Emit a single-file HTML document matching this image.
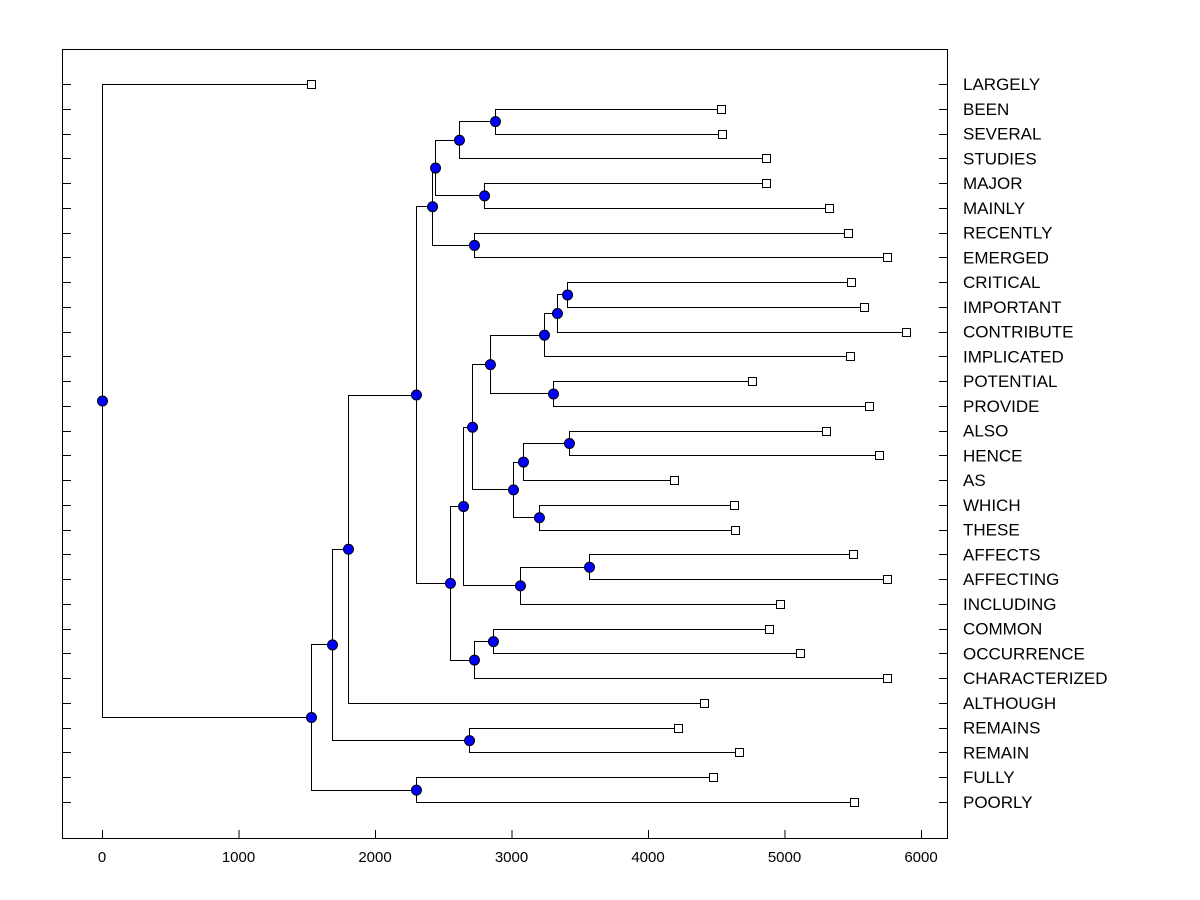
<!DOCTYPE html>
<html><head><meta charset="utf-8"><style>
body{margin:0;background:#fff}
svg{display:block;font-family:"Liberation Sans",Arial,sans-serif}
</style></head><body>
<svg id="chart" width="1200" height="900">
<rect x="62.5" y="49.5" width="885" height="789" fill="none" stroke="#000"/>
<g id="g-axes"></g><g id="g-links"></g><g id="g-nodes"></g><g id="g-leaves"></g><g id="g-labels"></g>
</svg>
<script>
const leafNames = ["LARGELY","BEEN","SEVERAL","STUDIES","MAJOR","MAINLY","RECENTLY","EMERGED","CRITICAL","IMPORTANT","CONTRIBUTE","IMPLICATED","POTENTIAL","PROVIDE","ALSO","HENCE","AS","WHICH","THESE","AFFECTS","AFFECTING","INCLUDING","COMMON","OCCURRENCE","CHARACTERIZED","ALTHOUGH","REMAINS","REMAIN","FULLY","POORLY"];
const leafValues = [1531,4535,4542,4864,4864,5326,5465,5751,5487,5582,5890,5480,4762,5619,5304,5692,4190,4630,4637,5502,5751,4967,4886,5114,5751,4410,4220,4667,4476,5509];
const mergeIds = ["N13","N11","N12","N9","N10","N7","N23","N22","N20","N21","N18","N26","N24","N25","N19","N16","N27","N17","N14","N28","N15","N8","N6","N4","N5","N2","N3","N1","root"];
const mergeHeights = [2879,2615,2799,2440,2725,2418,3407,3333,3238,3304,2842,3421,3084,3201,3011,2711,3568,3062,2645,2864,2725,2549,2300,1802,2689,1685,2300,1531,0];
const mergeLeft = ["L:1","N13","L:4","N11","L:6","N9","L:8","N23","N22","L:12","N20","L:14","N26","L:17","N24","N18","L:19","N27","N16","L:22","N28","N14","N7","N6","L:26","N4","L:28","N2","L:0"];
const mergeRight = ["L:2","L:3","L:5","N12","L:7","N10","L:9","L:10","L:11","L:13","N21","L:15","L:16","L:18","N25","N19","L:20","L:21","N17","L:23","L:24","N15","N8","L:25","L:27","N5","L:29","N3","N1"];
const xTicks = [0,1000,2000,3000,4000,5000,6000];

const X = v => 102 + v * 0.1365;
const Y = i => 84 + i * (802 - 84) / 29;
const NS = "http://www.w3.org/2000/svg";
function mk(tag, attrs, parent){const e=document.createElementNS(NS,tag);for(const k in attrs)e.setAttribute(k,attrs[k]);document.getElementById(parent).appendChild(e);return e;}

xTicks.forEach(t=>{
  const l=mk("line",{x1:X(t)+.5,x2:X(t)+.5,y1:830,y2:838,stroke:"#000"},"g-axes");
  
  
  const tx=mk("text",{x:X(t),y:862,"text-anchor":"middle","font-size":"15"},"g-axes");
  tx.textContent=t;
  
  
});
leafNames.forEach((n,i)=>{
  const y=Math.round(Y(i))+.5;
  const a=mk("line",{x1:62,x2:71,y1:y,y2:y,stroke:"#000"},"g-axes");
  
  
  const b=mk("line",{x1:939,x2:947,y1:y,y2:y,stroke:"#000"},"g-axes");
  
  
  const t=mk("text",{x:963,y:Y(i)+6,"font-size":"17"},"g-labels");
  t.textContent=n;
  
  
});

const pos={};
leafNames.forEach((n,i)=>{pos["L:"+i]={x:X(leafValues[i]),y:Y(i)};});
mergeIds.forEach((id,k)=>{
  const a=pos[mergeLeft[k]], b=pos[mergeRight[k]], x=X(mergeHeights[k]);
  pos[id]={x:x,y:(a.y+b.y)/2};
  const p=mk("path",{d:`M${a.x} ${Math.round(a.y)+.5}H${Math.round(x)+.5}V${Math.round(b.y)+.5}H${b.x}`,fill:"none",stroke:"#000","stroke-width":"1"},"g-links");
  
  
});
mergeIds.forEach(id=>{
  const c=mk("circle",{cx:pos[id].x+.5,cy:pos[id].y+.5,r:5,fill:"#0000ff",stroke:"#000","stroke-width":"1"},"g-nodes");
  
  
});
leafNames.forEach((n,i)=>{
  const p=pos["L:"+i];
  const r=mk("rect",{x:Math.round(p.x)-3.5,y:Math.round(p.y)-3.5,width:8,height:8,fill:"#fff",stroke:"#000"},"g-leaves");
  
  
});
</script>
</body></html>
